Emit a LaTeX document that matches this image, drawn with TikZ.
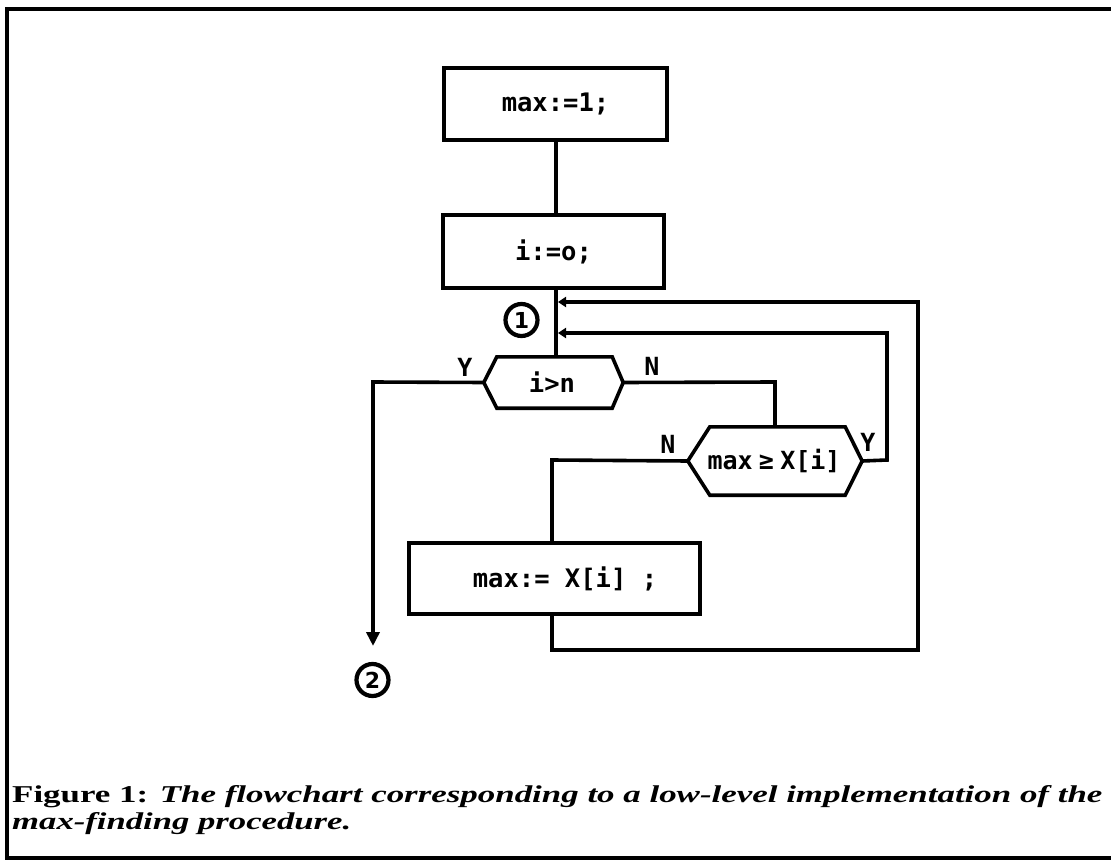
\documentclass[tikz,border=0pt]{standalone}
\usepackage{fontspec}
\newfontfamily\fcode{DejaVu Sans Mono}
\newfontfamily\fcap{Liberation Serif}
\newfontfamily\fnum{DejaVu Sans}
\usetikzlibrary{arrows.meta,calc}
\begin{document}
\begin{tikzpicture}[x=1pt,y=-1pt,
  line/.style={line width=3.6pt},
  box/.style={draw,line width=3.6pt,rectangle,inner sep=0pt},
  code/.style={font=\fcode\bfseries\fontsize{25.5}{25.5}\selectfont,inner sep=0pt},
  lbl/.style={font=\fcode\bfseries\fontsize{25}{25}\selectfont,inner sep=0pt},
  circ/.style={draw,circle,line width=4.2pt,minimum size=32pt,inner sep=0pt,font=\fnum\bfseries\fontsize{22}{22}\selectfont},
  arr/.style={line,-{Triangle[length=14pt,width=13pt]}},
  farr/.style={line,-{Triangle[length=8pt,width=10pt]}},
]
\useasboundingbox (0,0) rectangle (1111,861);
% frame
\draw[line width=4pt] (1111,9) -- (7,9) -- (7,858) -- (1111,858);

% spine x
\coordinate (sp) at (556,0);

% boxes
\node[box,minimum width=223pt,minimum height=72pt] (b1) at (555.5,104) {};
\node[code] (t1) at (b1.center) {max:=1;};
\node[box,minimum width=221pt,minimum height=73pt] (b2) at (553.5,251.5) {};
\node[code] (t2) at (b2.center) {i:=o;};
\node[box,minimum width=291pt,minimum height=71pt] (b3) at (554.5,578.5) {};
\node[code] (t3) at (565,578.5) {max:= X[i] ;};

% hexagon 1
\node[minimum width=115pt,minimum height=51pt,inner sep=0pt] (h1) at (554.5,382.5) {};
\node[code] (ht1) at (552,382) {i>n};
\coordinate (h1l) at ($(h1.west)+(-13,0)$);
\coordinate (h1r) at ($(h1.east)+(11,0)$);
\draw[line,line join=miter] (h1.north west) -- (h1.north east) -- (h1r) -- (h1.south east) -- (h1.south west) -- (h1l) -- cycle;

% hexagon 2
\node[minimum width=135pt,minimum height=68pt,inner sep=0pt] (h2) at (777.5,461) {};
\node[font=\fcode\bfseries\fontsize{25}{25}\selectfont,inner sep=0pt] (ht2) at (774,461) {max\hspace{0.25em}≥\hspace{0.25em}X[i]};
\coordinate (h2l) at ($(h2.west)+(-22,0)$);
\coordinate (h2r) at ($(h2.east)+(17,0)$);
\draw[line,line join=miter] (h2.north west) -- (h2.north east) -- (h2r) -- (h2.south east) -- (h2.south west) -- (h2l) -- cycle;

% circled connectors
\node[circ] (c1) at (521.5,320) {1};
\node[circ] (c2) at (372.5,680) {2};

% labels
\node[lbl] (y1) at (465,367) {Y};
\node[lbl] (n1) at (652,366) {N};
\node[lbl] (n2) at (668,444) {N};
\node[lbl] (y2) at (868,442) {Y};

% connectors
\draw[line] (b1.south -| sp) -- (b2.north -| sp);
\draw[line] (b2.south -| sp) -- (h1.north -| sp);
\coordinate (yend) at (373,646);
\draw[arr] (h1l) -- (373,382) -- (yend);
\coordinate (nturn) at (775,382);
\draw[line] (h1r) -- (nturn) -- (h2.north -| nturn);
\coordinate (n2turn) at (552,460);
\draw[line] (h2l) -- (n2turn) -- (b3.north -| n2turn);
\coordinate (fa) at (558,333);
\draw[farr] (h2r) -- (887,460) -- (887,333) -- (fa);
\coordinate (fb) at (558,302);
\draw[farr] (b3.south -| n2turn) -- (552,650) -- (918,650) -- (918,302) -- (fb);

% caption
\node[anchor=base west,inner sep=0pt] (cap1) at (12,802) {\resizebox{1090pt}{17pt}{\fcap\bfseries Figure 1: \itshape The flowchart corresponding to a low-level implementation of the}};
\node[anchor=base west,inner sep=0pt] (cap2) at (12,829) {\resizebox{339pt}{17pt}{\fcap\bfseries\itshape max-finding procedure.}};
\end{tikzpicture}
\end{document}
